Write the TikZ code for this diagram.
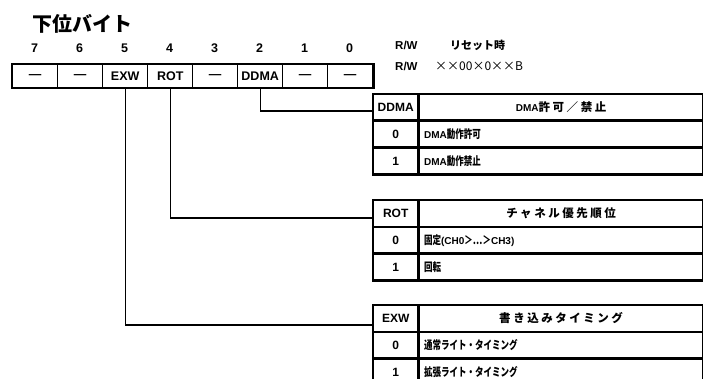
\documentclass[tikz,border=0pt]{standalone}
\usepackage{fontspec}
\setmainfont{Liberation Sans}
\newfontfamily\jp{Noto Sans CJK JP}
\newfontfamily\jpr{Noto Sans CJK JP}[FakeStretch=0.74]
\newfontfamily\jph{Noto Sans CJK JP}[LetterSpace=22]
\tikzset{
  regcell/.style={draw, line width=1.4pt, minimum width=45pt, minimum height=23pt,
    inner sep=0pt, anchor=north west, font=\fontsize{12.5}{14}\selectfont\bfseries},
  bitnum/.style={inner sep=0pt, font=\fontsize{12.5}{14}\selectfont\bfseries},
  tkey/.style={draw, line width=1.4pt, minimum width=44pt, minimum height=25.5pt,
    inner sep=0pt, anchor=north west, font=\fontsize{12}{14}\selectfont\bfseries},
  tval/.style={draw, line width=1.4pt, minimum width=284pt, minimum height=25.5pt,
    inner xsep=5pt, inner ysep=0pt, text width=274pt, align=left, anchor=north west,
    font=\fontsize{10}{12}\selectfont\bfseries},
  thead/.style={tval, align=center},
  rowjp/.style={},
  tborder/.style={line width=2.2pt},
  conn/.style={line width=1.1pt},
  plain/.style={inner sep=0pt, anchor=west}
}
\newcommand{\rj}[1]{{\fontsize{11.5}{12}\selectfont\jpr #1}}
\newcommand{\hj}[1]{{\fontsize{11.5}{13}\selectfont\jph #1}}
\begin{document}
\begin{tikzpicture}[x=1pt,y=-1pt]
\useasboundingbox (0,0) rectangle (703,379);
% title
\node[plain, font=\fontsize{20}{22}\selectfont\jp\bfseries] (title) at (32,24) {下位バイト};
% bit numbers
\node[bitnum] (b7) at (34.5,48) {7};
\node[bitnum] (b6) at (79.5,48) {6};
\node[bitnum] (b5) at (124.5,48) {5};
\node[bitnum] (b4) at (169.5,48) {4};
\node[bitnum] (b3) at (214.5,48) {3};
\node[bitnum] (b2) at (259.5,48) {2};
\node[bitnum] (b1) at (304.5,48) {1};
\node[bitnum] (b0) at (349.5,48) {0};
% register
\node[regcell] (r7) at (12,64) {—};
\node[regcell] (r6) at (57,64) {—};
\node[regcell] (r5) at (102,64) {EXW};
\node[regcell] (r4) at (147,64) {ROT};
\node[regcell] (r3) at (192,64) {—};
\node[regcell] (r2) at (237,64) {DDMA};
\node[regcell] (r1) at (282,64) {—};
\node[regcell] (r0) at (327,64) {—};
\draw[tborder] (r7.north west) rectangle (r0.south east);
% R/W labels
\node[plain, font=\fontsize{11.5}{13}\selectfont\bfseries] (rw1) at (395,45) {R/W};
\node[plain, font=\fontsize{11}{13}\selectfont\jp\bfseries] (reset) at (450,45) {リセット時};
\node[plain, font=\fontsize{11.5}{13}\selectfont\bfseries] (rw2) at (395,66) {R/W};
\node[plain, font=\fontsize{12}{14}\selectfont\jp] (rval) at (435,66) {××00×0××B};
% DDMA table
\node[tkey] (dk) at (373,94) {DDMA};
\node[thead] (dv) at (dk.north east) {DMA\hj{許可／禁止}};
\node[tkey] (d0k) at (dk.south west) {0};
\node[tval] (d0v) at (d0k.north east) {DMA\rj{動作許可}};
\node[tkey] (d1k) at (d0k.south west) {1};
\node[tval] (d1v) at (d1k.north east) {DMA\rj{動作禁止}};
\draw[tborder] (dk.north west) rectangle (d1v.south east);
% ROT table
\node[tkey] (rk) at (373,200) {ROT};
\node[thead] (rv) at (rk.north east) {\hj{チャネル優先順位}};
\node[tkey] (r0k) at (rk.south west) {0};
\node[tval] (r0v) at (r0k.north east) {\rj{固定}(CH0\rj{＞…＞}CH3)};
\node[tkey] (r1k) at (r0k.south west) {1};
\node[tval] (r1v) at (r1k.north east) {\rj{回転}};
\draw[tborder] (rk.north west) rectangle (r1v.south east);
% EXW table
\node[tkey] (ek) at (373,305) {EXW};
\node[thead] (ev) at (ek.north east) {\hj{書き込みタイミング}};
\node[tkey] (e0k) at (ek.south west) {0};
\node[tval] (e0v) at (e0k.north east) {\rj{通常ライト・タイミング}};
\node[tkey] (e1k) at (e0k.south west) {1};
\node[tval] (e1v) at (e1k.north east) {\rj{拡張ライト・タイミング}};
\draw[tborder] (ek.north west) rectangle (e1v.south east);
% connectors
\coordinate (dIn) at (373,111);
\coordinate (rIn) at (373,218);
\coordinate (eIn) at (373,325);
\draw[conn] (r2.south) |- (dIn);
\draw[conn] (r4.south) |- (rIn);
\draw[conn] (r5.south) |- (eIn);
\end{tikzpicture}
\end{document}
